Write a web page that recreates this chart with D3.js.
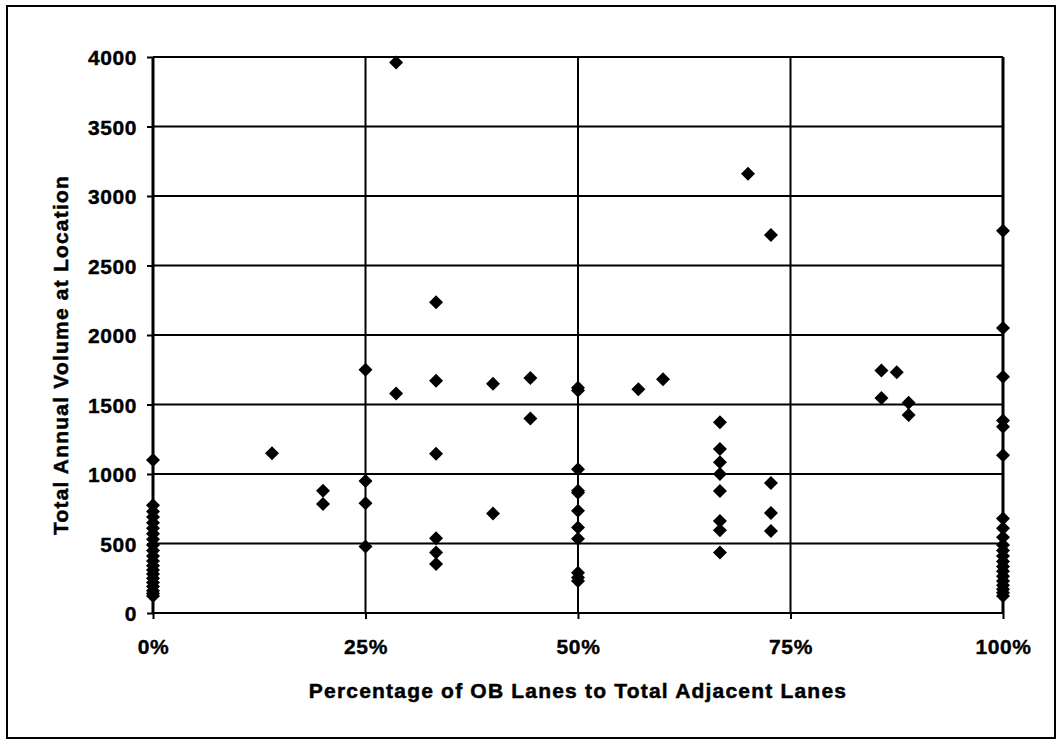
<!DOCTYPE html>
<html>
<head>
<meta charset="utf-8">
<script src="https://cdn.jsdelivr.net/npm/d3@7"></script>
<style>
  html, body { margin: 0; padding: 0; background: #fff; }
  svg { display: block; }
  text { font-family: "Liberation Sans", Arial, sans-serif; font-weight: bold; fill: #000; }
</style>
</head>
<body>
<svg id="chart" width="1057" height="744"></svg>
<script>
// ---- data (share of OB lanes in %, annual volume) ----
const xTicks = [0, 25, 50, 75, 100];
const yTicks = [0, 500, 1000, 1500, 2000, 2500, 3000, 3500, 4000];
const xTitle = "Percentage of OB Lanes to Total Adjacent Lanes";
const yTitle = "Total Annual Volume at Location";

const pct = [
  0,0,0,0,0,0,0,0,0,0,0,0,0,0,0,0,0,0,0,0,0,
  14,
  20,20,
  25,25,25,25,
  28.6,28.6,
  33.3,33.3,33.3,33.3,33.3,33.3,
  40,40,
  44.4,44.4,
  50,50,50,50,50,50,50,50,50,50,50,
  57.1,60,
  66.7,66.7,66.7,66.7,66.7,66.7,66.7,66.7,
  70,
  72.7,72.7,72.7,72.7,
  85.7,85.7,87.5,88.9,88.9,
  100,100,100,100,100,100,100,100,100,100,100,100,100,100,100,100,100,100,100,100,100
];
const volume = [
  1100,775,730,690,650,610,570,530,490,450,410,375,340,310,280,250,220,190,160,140,122,
  1150,
  880,785,
  1750,950,790,478,
  1580,3960,
  2235,1670,1145,537,435,352,
  1650,715,
  1690,1400,
  1620,1600,1035,880,865,735,615,535,290,255,230,
  1610,1681,
  1372,1180,1085,1000,878,662,595,435,
  3160,
  2720,935,720,590,
  1745,1547,1732,1513,1425,
  2750,2050,1700,1385,1340,1135,680,610,545,490,450,410,370,335,300,265,230,200,170,145,122
];

// ---- layout ----
const svg = d3.select("#chart");
const L = 153, R = 1003, T = 57, B = 613;

svg.append("rect").attr("x", 7).attr("y", 6).attr("width", 1048).attr("height", 732)
  .attr("fill", "none").attr("stroke", "#000").attr("stroke-width", 2);

const x = d3.scaleLinear().domain([0, 100]).range([L, R]);
const y = d3.scaleLinear().domain([0, 4000]).range([B, T]);

// horizontal gridlines
svg.append("g").selectAll("line").data(yTicks).join("line")
  .attr("x1", L).attr("x2", R).attr("y1", d => y(d)).attr("y2", d => y(d))
  .attr("stroke", "#000").attr("stroke-width", 2);
// vertical gridlines
svg.append("g").selectAll("line").data(xTicks).join("line")
  .attr("x1", d => x(d)).attr("x2", d => x(d)).attr("y1", T).attr("y2", B)
  .attr("stroke", "#000").attr("stroke-width", d => (d === 0 || d === 100) ? 3 : 2);

// axes
const yAxis = d3.axisLeft(y).tickValues(yTicks).tickSize(6).tickPadding(10).tickFormat(d3.format("d"));
const gy = svg.append("g").attr("transform", `translate(${L},0)`).call(yAxis);
gy.select(".domain").remove();
gy.selectAll("line").attr("stroke", "#000").attr("stroke-width", 2);
gy.selectAll("text").style("font-size", "21px").style("letter-spacing", "0.6px")
  .attr("stroke", "#000").attr("stroke-width", 0.4).attr("dy", "0.36em");

const xAxis = d3.axisBottom(x).tickValues(xTicks).tickSize(6).tickPadding(20).tickFormat(d => d + "%");
const gx = svg.append("g").attr("transform", `translate(0,${B})`).call(xAxis);
gx.select(".domain").remove();
gx.selectAll("line").attr("stroke", "#000").attr("stroke-width", 2);
gx.selectAll("text").style("font-size", "21px").style("letter-spacing", "0.6px")
  .attr("stroke", "#000").attr("stroke-width", 0.4);

// titles
svg.append("text").attr("x", (L + R) / 2).attr("y", 698).attr("text-anchor", "middle")
  .style("font-size", "21px").style("letter-spacing", "1.2px")
  .attr("stroke", "#000").attr("stroke-width", 0.5).text(xTitle);
svg.append("text").attr("transform", "translate(68,355) rotate(-90)").attr("text-anchor", "middle")
  .style("font-size", "21px").style("letter-spacing", "1.2px")
  .attr("stroke", "#000").attr("stroke-width", 0.5).text(yTitle);

// markers
const points = pct.map((p, i) => ({ p, v: volume[i] }));
const s = 7;
svg.append("g").selectAll("path").data(points).join("path")
  .attr("d", `M0,${-s}L${s},0L0,${s}L${-s},0Z`)
  .attr("transform", d => `translate(${x(d.p)},${y(d.v)})`)
  .attr("fill", "#000");
</script>
</body>
</html>
